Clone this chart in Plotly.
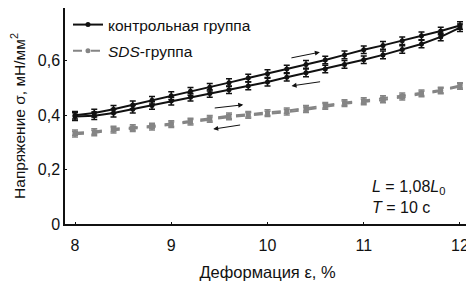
import plotly.graph_objects as go

strain = [8.0, 8.2, 8.4, 8.6, 8.8, 9.0, 9.2, 9.4, 9.6, 9.8, 10.0,
          10.2, 10.4, 10.6, 10.8, 11.0, 11.2, 11.4, 11.6, 11.8, 12.0]

ctrl_load = [0.400, 0.408, 0.422, 0.438, 0.455, 0.472, 0.488, 0.503, 0.520, 0.537, 0.553,
             0.570, 0.587, 0.603, 0.622, 0.641, 0.657, 0.674, 0.692, 0.710, 0.730]
ctrl_unload = [0.395, 0.398, 0.408, 0.422, 0.436, 0.452, 0.466, 0.480, 0.494, 0.508, 0.522,
               0.540, 0.556, 0.570, 0.587, 0.604, 0.622, 0.642, 0.662, 0.688, 0.722]
ctrl_err = [0.014] * 21

sds_load = [0.336, 0.340, 0.350, 0.355, 0.361, 0.370, 0.379, 0.389, 0.398, 0.404, 0.410,
            0.417, 0.426, 0.437, 0.447, 0.454, 0.462, 0.472, 0.483, 0.493, 0.510]
sds_unload = [0.330, 0.335, 0.345, 0.350, 0.356, 0.365, 0.374, 0.384, 0.393, 0.399, 0.405,
              0.411, 0.420, 0.432, 0.442, 0.449, 0.456, 0.466, 0.478, 0.489, 0.506]
sds_err = [0.010] * 21

x_ticks = [8, 9, 10, 11, 12]
y_tick_vals = [0, 0.2, 0.4, 0.6]
y_tick_text = ["0", "0,2", "0,4", "0,6"]

names = ["контрольная группа", "<i>SDS</i>-группа"]

FONT = "Liberation Sans, Arial, sans-serif"
BLACK = "#111111"
GRAY = "#858585"

fig = go.Figure()


def add(y, err, color, dash, name, group, show):
    fig.add_trace(go.Scatter(
        x=strain, y=y, mode="lines+markers", name=name,
        legendgroup=group, showlegend=show,
        line=dict(color=color, width=2, dash=dash),
        marker=dict(color=color, size=5, symbol="circle"),
        error_y=dict(type="data", array=err, color=color, thickness=1.5, width=3),
    ))


add(ctrl_load, ctrl_err, BLACK, "solid", names[0], "c", True)
add(ctrl_unload, ctrl_err, BLACK, "solid", names[0], "c", False)
add(sds_load, sds_err, GRAY, "dash", names[1], "s", True)
add(sds_unload, sds_err, GRAY, "dash", names[1], "s", False)

arrows = [
    (10.233, 0.610, 10.544, 0.632, BLACK),
    (10.562, 0.524, 10.250, 0.508, BLACK),
    (9.436, 0.426, 9.748, 0.4385, BLACK),
    (9.731, 0.365, 9.436, 0.349, BLACK),
]
for ax_, ay_, x_, y_, c in arrows:
    fig.add_annotation(x=x_, y=y_, ax=ax_, ay=ay_, xref="x", yref="y",
                       axref="x", ayref="y", showarrow=True, arrowhead=2,
                       arrowsize=1, arrowwidth=1, arrowcolor=c, text="")

fig.add_annotation(x=11.063, y=0.101, xref="x", yref="y", xanchor="left",
                   align="left", showarrow=False,
                   text="<i>L</i> = 1,08<i>L</i><sub>0</sub><br><i>T</i> = 10 с",
                   font=dict(family=FONT, size=16, color=BLACK))

# page body has an 8px margin, so the figure is sized to fit the window
fig.update_layout(
    width=466, height=273,
    margin=dict(l=57, r=4, t=0, b=56.5),
    paper_bgcolor="white", plot_bgcolor="white",
    font=dict(family=FONT, size=14, color=BLACK),
    separators=",.",
    legend=dict(x=0.0074, y=1.0, xanchor="left", yanchor="top",
                bgcolor="rgba(0,0,0,0)", font=dict(size=15.5, family=FONT),
                tracegroupgap=3, traceorder="grouped"),
    xaxis=dict(range=[7.896, 12.104], tickvals=x_ticks, ticks="inside",
               ticklen=2, tickcolor=BLACK, showline=True, linecolor=BLACK,
               linewidth=1.5, showgrid=False, zeroline=False, automargin=False,
               tickfont=dict(size=16), ticklabelstandoff=6,
               title=dict(text="Деформация ε, %", font=dict(size=16.5), standoff=14)),
    yaxis=dict(range=[0, 0.7945], tickvals=y_tick_vals, ticktext=y_tick_text,
               ticks="inside", ticklen=2, tickcolor=BLACK, showline=True,
               linecolor=BLACK, linewidth=1.5, showgrid=False, zeroline=False,
               automargin=False, tickfont=dict(size=16),
               title=dict(text="Напряжение σ, мН/мм<sup>2</sup>", font=dict(size=15.5), standoff=10)),
)

fig.write_html("out.html")
